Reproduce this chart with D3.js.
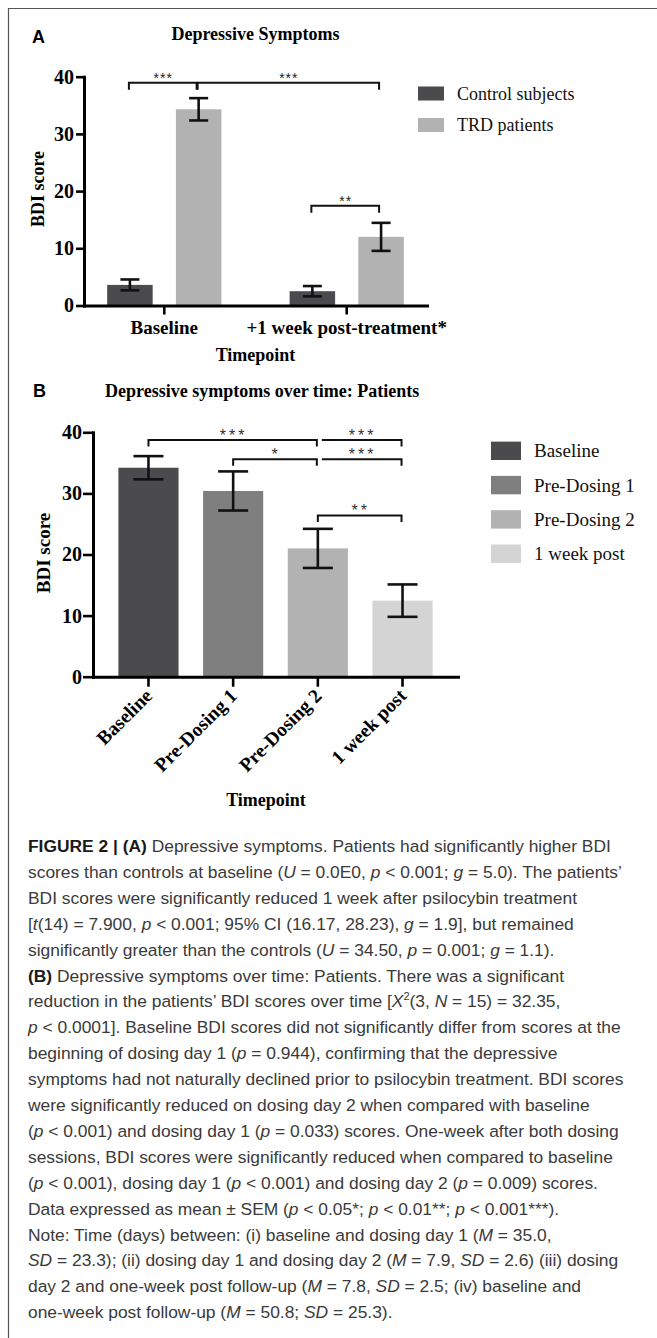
<!DOCTYPE html>
<html><head><meta charset="utf-8">
<script src="https://cdn.jsdelivr.net/npm/d3@7"></script>
<style>
html,body{margin:0;padding:0;background:#fff;}
svg{display:block;}
</style></head>
<body><svg id="chart" width="657" height="1338"></svg>
<script>
// ---------- Panel A data ----------
const groupsA = ["Baseline", "+1 week post-treatment*"];
const seriesA = ["Control subjects", "TRD patients"];
const controlMeanA = [3.6, 2.5];
const controlSemA = [0.95, 0.9];
const trdMeanA = [34.3, 12.0];
const trdSemA = [1.95, 2.45];
const colorsA = ["#4b4b4d", "#b2b2b2"];
const yTicksA = [0, 10, 20, 30, 40];
const comparisonsA = [
  {g1: "Baseline", s1: "Control subjects", g2: "Baseline", s2: "TRD patients", level: 38.95, label: "***"},
  {g1: "Baseline", s1: "TRD patients", g2: "+1 week post-treatment*", s2: "TRD patients", level: 38.95, label: "***"},
  {g1: "+1 week post-treatment*", s1: "Control subjects", g2: "+1 week post-treatment*", s2: "TRD patients", level: 17.45, label: "**"}
];

// ---------- Panel B data ----------
const timepointsB = ["Baseline", "Pre-Dosing 1", "Pre-Dosing 2", "1 week post"];
const meanB = [34.2, 30.4, 21.0, 12.45];
const semB = [1.9, 3.2, 3.2, 2.65];
const colorsB = ["#4b4b4d", "#7f7f7f", "#b2b2b2", "#d4d4d4"];
const yTicksB = [0, 10, 20, 30, 40];
const comparisonsB = [
  {from: "Baseline", to: "Pre-Dosing 2", level: 38.75, label: "***", leftTick: true},
  {from: "Pre-Dosing 1", to: "Pre-Dosing 2", level: 35.6, label: "*", leftTick: true},
  {from: "Pre-Dosing 2", to: "1 week post", level: 38.75, label: "***", leftTick: false},
  {from: "Pre-Dosing 2", to: "1 week post", level: 35.6, label: "***", leftTick: false},
  {from: "Pre-Dosing 2", to: "1 week post", level: 26.4, label: "**", leftTick: true}
];

// ---------- Caption ----------
const captionLines = [
  "[b]FIGURE 2 | (A)[/b] Depressive symptoms. Patients had significantly higher BDI",
  "scores than controls at baseline ([i]U[/i] = 0.0E0, [i]p[/i] < 0.001; [i]g[/i] = 5.0). The patients’",
  "BDI scores were significantly reduced 1 week after psilocybin treatment",
  "[[i]t[/i](14) = 7.900, [i]p[/i] < 0.001; 95% CI (16.17, 28.23), [i]g[/i] = 1.9], but remained",
  "significantly greater than the controls ([i]U[/i] = 34.50, [i]p[/i] = 0.001; [i]g[/i] = 1.1).",
  "[b](B)[/b] Depressive symptoms over time: Patients. There was a significant",
  "reduction in the patients’ BDI scores over time [[i]X[/i][sup]2[/sup](3, [i]N[/i] = 15) = 32.35,",
  "[i]p[/i] < 0.0001]. Baseline BDI scores did not significantly differ from scores at the",
  "beginning of dosing day 1 ([i]p[/i] = 0.944), confirming that the depressive",
  "symptoms had not naturally declined prior to psilocybin treatment. BDI scores",
  "were significantly reduced on dosing day 2 when compared with baseline",
  "([i]p[/i] < 0.001) and dosing day 1 ([i]p[/i] = 0.033) scores. One-week after both dosing",
  "sessions, BDI scores were significantly reduced when compared to baseline",
  "([i]p[/i] < 0.001), dosing day 1 ([i]p[/i] < 0.001) and dosing day 2 ([i]p[/i] = 0.009) scores.",
  "Data expressed as mean ± SEM ([i]p[/i] < 0.05*; [i]p[/i] < 0.01**; [i]p[/i] < 0.001***).",
  "Note: Time (days) between: (i) baseline and dosing day 1 ([i]M[/i] = 35.0,",
  "[i]SD[/i] = 23.3); (ii) dosing day 1 and dosing day 2 ([i]M[/i] = 7.9, [i]SD[/i] = 2.6) (iii) dosing",
  "day 2 and one-week post follow-up ([i]M[/i] = 7.8, [i]SD[/i] = 2.5; (iv) baseline and",
  "one-week post follow-up ([i]M[/i] = 50.8; [i]SD[/i] = 25.3)."
];

const SERIF = "'Liberation Serif', 'Times New Roman', serif";
const SANS = "'Liberation Sans', Arial, sans-serif";
const svg = d3.select("#chart");

// frame
svg.append("path").attr("d", "M8.5,1338V8.5H657").attr("fill", "none").attr("stroke", "#555").attr("stroke-width", 1.2);

function styleAxis(g, fs) {
  g.select(".domain").attr("stroke", "#000").attr("stroke-width", 3).attr("stroke-linecap", "square");
  g.selectAll(".tick line").attr("stroke", "#000").attr("stroke-width", 2.6);
  g.selectAll(".tick text").attr("font-family", SERIF).attr("font-weight", "bold").attr("font-size", fs).attr("fill", "#000");
}

function drawErr(g, cx, m, s, y, cap) {
  g.append("line").attr("x1", cx).attr("x2", cx).attr("y1", y(m - s)).attr("y2", y(m + s));
  g.append("line").attr("x1", cx - cap / 2).attr("x2", cx + cap / 2).attr("y1", y(m + s)).attr("y2", y(m + s));
  g.append("line").attr("x1", cx - cap / 2).attr("x2", cx + cap / 2).attr("y1", y(m - s)).attr("y2", y(m - s));
}

// ================= PANEL A =================
{
  const x0 = d3.scaleBand().domain(groupsA).range([84, 427]).paddingInner(0.374).paddingOuter(0.127);
  const x1 = d3.scaleBand().domain(seriesA).range([0, x0.bandwidth()]).paddingInner(0.338).paddingOuter(0);
  const y = d3.scaleLinear().domain([0, 40]).range([305.5, 76.7]);
  const color = d3.scaleOrdinal().domain(seriesA).range(colorsA);
  const means = {"Control subjects": controlMeanA, "TRD patients": trdMeanA};
  const sems = {"Control subjects": controlSemA, "TRD patients": trdSemA};
  const cx = (g, s) => x0(g) + x1(s) + x1.bandwidth() / 2;

  svg.append("text").attr("x", 32).attr("y", 43).attr("font-family", SANS).attr("font-weight", "bold").attr("font-size", 18).text("A");
  svg.append("text").attr("x", (84 + 427) / 2).attr("y", 40).attr("text-anchor", "middle").attr("font-family", SERIF).attr("font-weight", "bold").attr("font-size", 18).text("Depressive Symptoms");

  const bars = svg.append("g");
  groupsA.forEach((g, i) => {
    seriesA.forEach(s => {
      const v = means[s][i];
      bars.append("rect").attr("x", x0(g) + x1(s)).attr("width", x1.bandwidth())
        .attr("y", y(v)).attr("height", y(0) - y(v)).attr("fill", color(s));
    });
  });
  const eb = svg.append("g").attr("stroke", "#111").attr("stroke-width", 2.6);
  groupsA.forEach((g, i) => seriesA.forEach(s => drawErr(eb, cx(g, s), means[s][i], sems[s][i], y, 19)));

  const ya = svg.append("g").attr("transform", "translate(84,0)")
    .call(d3.axisLeft(y).tickValues(yTicksA).tickSize(8).tickSizeOuter(0).tickPadding(2));
  styleAxis(ya, 20);
  const xa = svg.append("g").attr("transform", "translate(0,305.5)")
    .call(d3.axisBottom(x0).tickSize(9).tickSizeOuter(0).tickFormat(""));
  styleAxis(xa, 19);
  groupsA.forEach(g => {
    svg.append("text").attr("x", x0(g) + x0.bandwidth() / 2).attr("y", 334).attr("text-anchor", "middle")
      .attr("font-family", SERIF).attr("font-weight", "bold").attr("font-size", 19).text(g);
  });
  svg.append("text").attr("x", (84 + 427) / 2).attr("y", 361).attr("text-anchor", "middle")
    .attr("font-family", SERIF).attr("font-weight", "bold").attr("font-size", 18).text("Timepoint");
  svg.append("text").attr("transform", "translate(44,189) rotate(-90)").attr("text-anchor", "middle")
    .attr("font-family", SERIF).attr("font-weight", "bold").attr("font-size", 18).text("BDI score");

  const br = svg.append("g");
  comparisonsA.forEach(c => {
    const xa1 = cx(c.g1, c.s1) - 1, xa2 = cx(c.g2, c.s2) - 2, yy = y(c.level);
    br.append("path").attr("d", `M${xa1},${yy + 7}V${yy}H${xa2}V${yy + 7}`)
      .attr("fill", "none").attr("stroke", "#111").attr("stroke-width", 2);
    br.append("text").attr("x", (xa1 + xa2) / 2 + 0.5).attr("y", yy).attr("text-anchor", "middle")
      .attr("font-family", SANS).attr("font-size", 14).attr("letter-spacing", 1).attr("fill", "#222").text(c.label);
  });

  const lg = svg.append("g");
  seriesA.forEach((s, i) => {
    const cy = 93.5 + i * 31.5;
    lg.append("rect").attr("x", 418).attr("y", cy - 7).attr("width", 26).attr("height", 14).attr("fill", color(s));
    lg.append("text").attr("x", 457).attr("y", cy).attr("dy", "0.35em").attr("font-family", SERIF)
      .attr("font-size", 18).attr("fill", "#111").text(s);
  });
}

// ================= PANEL B =================
{
  const x = d3.scaleBand().domain(timepointsB).range([93, 458]).paddingInner(0.29).paddingOuter(0.3);
  const y = d3.scaleLinear().domain([0, 40]).range([676.7, 432.3]);
  const color = d3.scaleOrdinal().domain(timepointsB).range(colorsB);
  const cx = t => x(t) + x.bandwidth() / 2;

  svg.append("text").attr("x", 33).attr("y", 397).attr("font-family", SANS).attr("font-weight", "bold").attr("font-size", 18).text("B");
  svg.append("text").attr("x", 105).attr("y", 397).attr("font-family", SERIF).attr("font-weight", "bold").attr("font-size", 18).text("Depressive symptoms over time: Patients");

  const bars = svg.append("g");
  timepointsB.forEach((t, i) => {
    bars.append("rect").attr("x", x(t)).attr("width", x.bandwidth()).attr("y", y(meanB[i]))
      .attr("height", y(0) - y(meanB[i])).attr("fill", color(t));
  });
  const eb = svg.append("g").attr("stroke", "#111").attr("stroke-width", 2.6);
  timepointsB.forEach((t, i) => drawErr(eb, cx(t), meanB[i], semB[i], y, 30));

  const ya = svg.append("g").attr("transform", "translate(93,0)")
    .call(d3.axisLeft(y).tickValues(yTicksB).tickSize(10).tickSizeOuter(0).tickPadding(1));
  styleAxis(ya, 20);
  const xa = svg.append("g").attr("transform", "translate(0,676.7)")
    .call(d3.axisBottom(x).tickSize(10).tickSizeOuter(0).tickFormat(""));
  styleAxis(xa, 19);
  timepointsB.forEach(t => {
    svg.append("text").attr("transform", `translate(${cx(t) + 5},697) rotate(-45)`).attr("text-anchor", "end")
      .attr("font-family", SERIF).attr("font-weight", "bold").attr("font-size", 19.5).text(t);
  });
  svg.append("text").attr("x", 266).attr("y", 806).attr("text-anchor", "middle")
    .attr("font-family", SERIF).attr("font-weight", "bold").attr("font-size", 18).text("Timepoint");
  svg.append("text").attr("transform", "translate(50,553) rotate(-90)").attr("text-anchor", "middle")
    .attr("font-family", SERIF).attr("font-weight", "bold").attr("font-size", 19).text("BDI score");

  const br = svg.append("g");
  comparisonsB.forEach(c => {
    const xb1 = cx(c.from) + (c.leftTick ? 0 : 4), xb2 = cx(c.to) - 1, yy = y(c.level);
    const d = c.leftTick ? `M${xb1},${yy + 6.5}V${yy}H${xb2}V${yy + 6.5}` : `M${xb1},${yy}H${xb2}V${yy + 6.5}`;
    br.append("path").attr("d", d).attr("fill", "none").attr("stroke", "#111").attr("stroke-width", 2);
    br.append("text").attr("x", (xb1 + xb2) / 2 + 1).attr("y", yy + 1).attr("text-anchor", "middle")
      .attr("font-family", SANS).attr("font-size", 16).attr("letter-spacing", 3).attr("fill", "#333").text(c.label);
  });

  const lg = svg.append("g");
  timepointsB.forEach((t, i) => {
    const cy = 450.8 + i * 34.3;
    lg.append("rect").attr("x", 491).attr("y", cy - 9.2).attr("width", 30).attr("height", 18.4).attr("fill", color(t));
    lg.append("text").attr("x", 534).attr("y", cy).attr("dy", "0.35em").attr("font-family", SERIF)
      .attr("font-size", 19).attr("fill", "#111").text(t);
  });
}

// ================= CAPTION =================
function parseLine(str) {
  const parts = str.split(/(\[\/?(?:b|i|sup)\])/);
  const st = {b: false, i: false, sup: false};
  const segs = [];
  parts.forEach(p => {
    const m = p.match(/^\[(\/?)(b|i|sup)\]$/);
    if (m) st[m[2]] = !m[1];
    else if (p) segs.push({t: p, b: st.b, i: st.i, sup: st.sup});
  });
  return segs;
}
const cap = svg.append("g").attr("font-family", SANS).attr("font-size", 17.4).attr("fill", "#3a3a3a");
captionLines.forEach((line, li) => {
  const txt = cap.append("text").attr("x", 28).attr("y", 852 + li * 25.9).attr("xml:space", "preserve");
  let prevSup = false;
  parseLine(line).forEach(s => {
    const ts = txt.append("tspan").text(s.t);
    if (s.b) ts.attr("font-weight", "bold").attr("fill", "#1a1a1a");
    if (s.i) ts.attr("font-style", "italic");
    if (s.sup) ts.attr("font-size", 11).attr("dy", -7);
    else if (prevSup) ts.attr("dy", 7);
    prevSup = s.sup;
  });
});
</script>
</body></html>
